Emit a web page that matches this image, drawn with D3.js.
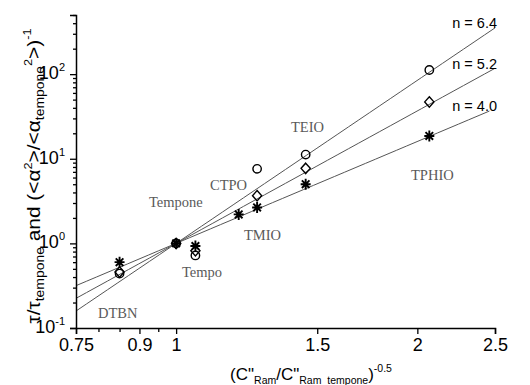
<!DOCTYPE html>
<html><head><meta charset="utf-8">
<script src="https://cdn.jsdelivr.net/npm/d3@7"></script>
<style>body{margin:0;background:#fff}svg{display:block}</style>
</head><body>
<script>
// ---- data ----
const compounds = ["DTBN","Tempone","Tempo","TMIO","CTPO","TEIO","TPHIO"];
const xValues   = [0.85, 1.0, 1.057, 1.197, 1.262, 1.451, 2.07];
const circleVals  = [0.44, 1.0, 0.72, null, 7.6, 11.2, 112];
const diamondVals = [0.46, 1.0, 0.82, null, 3.66, 7.7, 47];
const starVals    = [0.60, 1.0, 0.93, 2.2, 2.66, 5.0, 18.6];
const fitExponents = [6.4, 5.2, 4.0];
const fitLabels    = ["n = 6.4","n = 5.2","n = 4.0"];
const fitXStart = [0.75, 0.75, 0.75];
const fitXEnd   = [2.5, 2.5, 2.46];
const xMajorTicks = [0.75, 0.9, 1, 1.5, 2, 2.5];
const xMinorTicks = [0.8, 0.85, 0.95];
const yMajorTicks = [0.1, 1, 10, 100];
const yExponents  = ["-1","0","1","2"];

const W = 530, H = 385;
const svg = d3.select("body").append("svg").attr("width", W).attr("height", H);
const x = d3.scaleLog().domain([0.75, 2.5]).range([76, 495]);
const y = d3.scaleLog().domain([0.1, 500]).range([328, 15]);

// minor y ticks
const yMinor = [];
[0.1, 1, 10, 100].forEach(d => { for (let k = 2; k <= 9; k++) { const v = d * k; if (v <= 500) yMinor.push(v); } });

// fit lines
fitExponents.forEach((n, i) => {
  const xs = d3.range(0, 41).map(j => Math.exp(Math.log(fitXStart[i]) + (Math.log(fitXEnd[i]) - Math.log(fitXStart[i])) * j / 40));
  const line = d3.line().x(d => x(d)).y(d => y(Math.pow(d, n)));
  svg.append("path").attr("d", line(xs)).attr("fill", "none").attr("stroke", "#555").attr("stroke-width", 1);
});

// axes
const gx = svg.append("g").attr("transform", `translate(0,${y(0.1)})`);
gx.call(d3.axisBottom(x).tickValues(xMajorTicks).tickSize(6).tickPadding(4).tickFormat(d => String(d)));
const gxm = svg.append("g").attr("transform", `translate(0,${y(0.1)})`);
gxm.call(d3.axisBottom(x).tickValues(xMinorTicks).tickSize(4).tickFormat(""));
gxm.select(".domain").remove();
[gx, gxm].forEach(g => {
  g.select(".domain").attr("stroke", "#000").attr("stroke-width", 1.5);
  g.selectAll(".tick line").attr("stroke", "#000").attr("stroke-width", 1.3);
});
gx.selectAll(".tick text").attr("font-family", "Liberation Sans, Arial, sans-serif").attr("font-size", 18).attr("fill", "#000");

const gy = svg.append("g").attr("transform", `translate(${x(0.75)},0)`);
gy.call(d3.axisLeft(y).tickValues(yMajorTicks).tickSize(6).tickPadding(5).tickFormat(""));
const gym = svg.append("g").attr("transform", `translate(${x(0.75)},0)`);
gym.call(d3.axisLeft(y).tickValues(yMinor).tickSize(3).tickFormat(""));
gym.select(".domain").remove();
gy.select(".domain").attr("stroke", "#000").attr("stroke-width", 1.5);
[gy, gym].forEach(g => g.selectAll(".tick line").attr("stroke", "#000").attr("stroke-width", 1.3));
gy.selectAll(".tick text").each(function(d, i) {
  const t = d3.select(this).text("").attr("font-family", "Liberation Sans, Arial, sans-serif").attr("fill", "#000").attr("dy", "0.45em");
  t.append("tspan").attr("font-size", 18).text("10");
  t.append("tspan").attr("font-size", 11).attr("dy", -8).text(yExponents[i]);
});

// markers
const pts = (vals) => xValues.map((xv, i) => ({x: xv, y: vals[i]})).filter(d => d.y != null);
svg.append("g").selectAll("circle").data(pts(circleVals)).join("circle")
  .attr("cx", d => x(d.x)).attr("cy", d => y(d.y)).attr("r", 4.2)
  .attr("fill", "none").attr("stroke", "#000").attr("stroke-width", 1.4);
svg.append("g").selectAll("path").data(pts(diamondVals)).join("path")
  .attr("transform", d => `translate(${x(d.x)},${y(d.y)})`)
  .attr("d", "M0,-5.2L4.6,0L0,5.2L-4.6,0Z")
  .attr("fill", "none").attr("stroke", "#000").attr("stroke-width", 1.4);
svg.append("g").selectAll("path").data(pts(starVals)).join("path")
  .attr("transform", d => `translate(${x(d.x)},${y(d.y)})`)
  .attr("d", "M-5,0L5,0M0,-5.5L0,5.5M-3.8,-3.8L3.8,3.8M-3.8,3.8L3.8,-3.8")
  .attr("fill", "none").attr("stroke", "#000").attr("stroke-width", 1.9);

// compound labels
const labelPos = {DTBN:[98,318], Tempone:[149,207], Tempo:[182,277], TMIO:[244,240], CTPO:[210,190], TEIO:[291,132], TPHIO:[411,180]};
compounds.forEach(c => {
  svg.append("text").attr("x", labelPos[c][0]).attr("y", labelPos[c][1])
    .attr("font-family", "Liberation Serif, Times New Roman, serif").attr("font-size", 14.5).attr("fill", "#5a5a5a").text(c);
});

// fit labels
const fitLabelY = [28, 69, 111];
fitLabels.forEach((l, i) => {
  svg.append("text").attr("x", 497).attr("y", fitLabelY[i]).attr("text-anchor", "end")
    .attr("font-family", "Liberation Sans, Arial, sans-serif").attr("font-size", 14.5).attr("fill", "#000").text(l);
});

function rich(t, parts) {
  parts.forEach(p => t.append("tspan").attr("font-size", p[1]).attr("dy", p[2]).text(p[0]));
}
// x title
const xt = svg.append("text").attr("x", 311).attr("y", 380).attr("text-anchor", "middle")
  .attr("font-family", "Liberation Sans, Arial, sans-serif").attr("fill", "#000");
rich(xt, [["(C\"", 17, 0], ["Ram", 10.5, 4], ["/C\"", 17, -4], ["Ram_tempone", 10.5, 4], [")", 17, -4], ["-0.5", 10.5, -8]]);

// y title
const yt = svg.append("text").attr("transform", "translate(40,176) rotate(-90) scale(1.16,1)").attr("text-anchor", "middle")
  .attr("font-family", "Liberation Sans, Arial, sans-serif").attr("fill", "#000");
rich(yt, [["τ/τ", 18, 0], ["tempone", 12, 4], [" and (<α", 18, -4], ["2", 11, -8], [">/<α", 18, 8], ["tempone", 12, 4], ["2", 11, -12], [">)", 18, 8], ["-1", 11, -9]]);
</script>
</body></html>
